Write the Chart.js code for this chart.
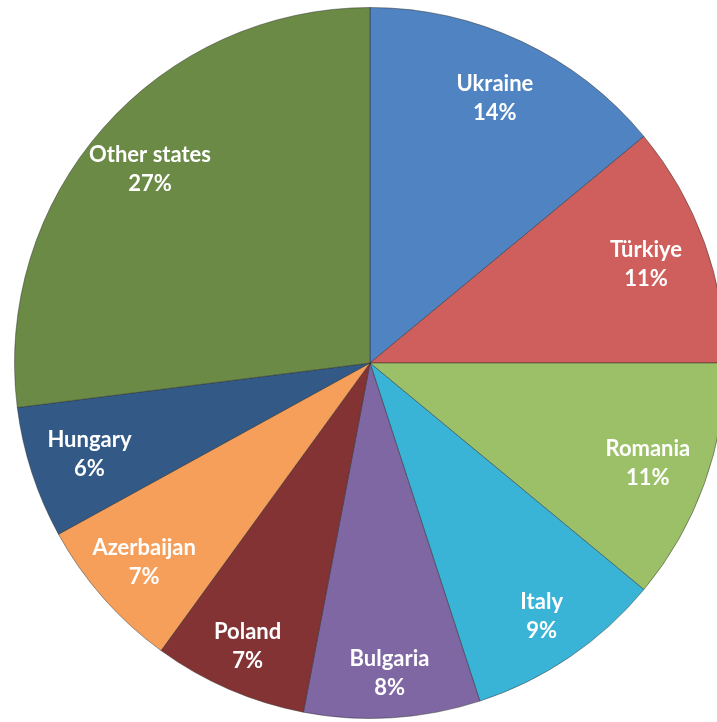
<!DOCTYPE html>
<html>
<head>
<meta charset="utf-8">
<script src="https://cdn.jsdelivr.net/npm/chart.js@4.4.1/dist/chart.umd.min.js"></script>
<style>
  html, body { margin: 0; padding: 0; background: #fff; overflow: hidden; }
  #wrap { position: absolute; left: 0; top: 0; width: 740px; height: 726px; }
</style>
</head>
<body>
<div id="wrap"><canvas id="pie"></canvas></div>
<script>
const countries = ['Ukraine', 'Türkiye', 'Romania', 'Italy', 'Bulgaria', 'Poland', 'Azerbaijan', 'Hungary', 'Other states'];
const shares = [14, 11, 11, 9, 8, 7, 7, 6, 27];
const sliceColors = ['#5083c1', '#cf5f5c', '#9cc068', '#39b3d6', '#7f67a4', '#843335', '#f59f5b', '#335a86', '#6a8a45'];

// lighten / darken a hex colour
function shade(hex, amt) {
    const n = parseInt(hex.slice(1), 16);
    let r = (n >> 16) & 255, g = (n >> 8) & 255, b = n & 255;
    const f = (c) => Math.max(0, Math.min(255, Math.round(amt > 0 ? c + (255 - c) * amt : c * (1 + amt))));
    return 'rgb(' + f(r) + ',' + f(g) + ',' + f(b) + ')';
}

// fake the bevel with a radial gradient per slice
const bevelFill = (context) => {
    const chart = context.chart;
    const base = sliceColors[context.dataIndex];
    const arc = chart.getDatasetMeta(0).data[context.dataIndex];
    if (!arc || !arc.outerRadius) return base;
    const g = chart.ctx.createRadialGradient(arc.x, arc.y, 0, arc.x, arc.y, arc.outerRadius);
    g.addColorStop(0, base);
    g.addColorStop(0.9, base);
    g.addColorStop(0.96, shade(base, 0.2));
    g.addColorStop(1, shade(base, -0.15));
    return g;
};

// labels inside the slices: name + percent
// (excel's best fit pushes the bottom labels a bit further out)
const sliceLabels = {
    id: 'sliceLabels',
    afterDatasetsDraw(chart) {
        const ctx = chart.ctx;
        const meta = chart.getDatasetMeta(0);
        ctx.save();
        ctx.fillStyle = '#ffffff';
        ctx.textAlign = 'center';
        ctx.textBaseline = 'middle';
        ctx.font = 'bold 22px Lato';
        meta.data.forEach((arc, i) => {
            const mid = (arc.startAngle + arc.endAngle) / 2;
            const down = Math.max(0, Math.sin(mid));
            const r = arc.outerRadius * (0.825 + 0.05 * down * down);
            const x = arc.x + Math.cos(mid) * r;
            const y = arc.y + Math.sin(mid) * r;
            ctx.fillText(countries[i], x, y - 14);
            ctx.fillText(shares[i] + '%', x, y + 15);
        });
        ctx.restore();
    }
};

new Chart(document.getElementById('pie'), {
    type: 'pie',
    data: {
        labels: countries,
        datasets: [{
            data: shares,
            backgroundColor: bevelFill,
            borderColor: 'rgba(40,40,40,0.45)',
            borderWidth: 1
        }]
    },
    options: {
        responsive: true,
        maintainAspectRatio: false,
        animation: false,
        layout: { padding: 7 },
        plugins: {
            legend: { display: false },
            tooltip: { enabled: false }
        }
    },
    plugins: [sliceLabels]
});
</script>
</body>
</html>
